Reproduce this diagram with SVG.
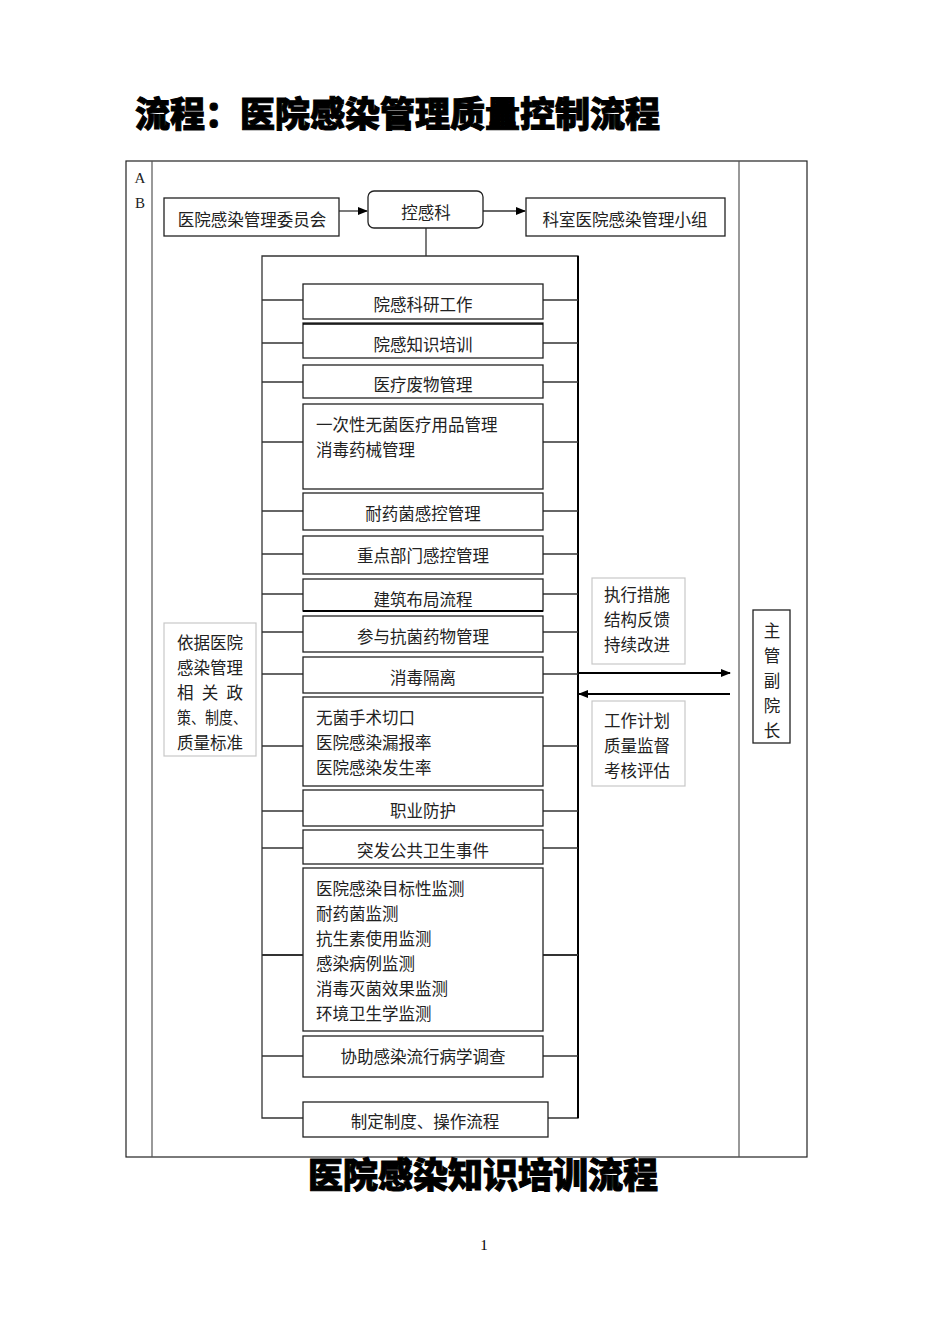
<svg xmlns="http://www.w3.org/2000/svg" width="950" height="1344" viewBox="0 0 950 1344">
<defs>
<marker id="ah" markerWidth="10" markerHeight="8" refX="9" refY="4" orient="auto" markerUnits="userSpaceOnUse">
<path d="M0,0 L10,4 L0,8 z" fill="#000"/>
</marker>
<style>
.t{font-family:"Liberation Serif","Noto Sans CJK SC",serif;font-size:16.5px;fill:#222}
.c{text-anchor:middle}
.box{fill:#fff;stroke:#222;stroke-width:1.3}
.gbox{fill:#fff;stroke:#c8c8c8;stroke-width:1.2}
.ln{stroke:#333;stroke-width:1.3;fill:none}
.title{font-family:"Noto Sans CJK SC",sans-serif;font-weight:900;font-size:35px;fill:#000;stroke:#000;stroke-width:1}
</style>
</defs>
<rect width="950" height="1344" fill="#fff"/>
<text class="title" x="135" y="127">流程：医院感染管理质量控制流程</text>

<g id="frame">
<rect x="126" y="161" width="681" height="996" fill="none" stroke="#222" stroke-width="1.2"/>
<line x1="152" y1="161" x2="152" y2="1157" stroke="#555" stroke-width="1.2"/>
<line x1="739" y1="161" x2="739" y2="1157" stroke="#555" stroke-width="1.2"/>
<text class="t" x="140" y="183" style="font-size:15px" text-anchor="middle">A</text>
<text class="t" x="140" y="208" style="font-size:15px" text-anchor="middle">B</text>
</g>

<g id="connectors">
<line class="ln" x1="339" y1="211" x2="367" y2="211" marker-end="url(#ah)" stroke-width="2"/>
<line class="ln" x1="483" y1="211" x2="525" y2="211" marker-end="url(#ah)" stroke-width="2"/>
<line class="ln" x1="426" y1="228" x2="426" y2="256"/>
<path class="ln" d="M303,1118 H262 V256 H578 V1118 H548"/>
<line x1="578" y1="256" x2="578" y2="1118" stroke="#000" stroke-width="2"/>
<g class="ln">
<line x1="262" y1="300" x2="303" y2="300"/><line x1="543" y1="300" x2="578" y2="300"/>
<line x1="262" y1="343" x2="303" y2="343"/><line x1="543" y1="343" x2="578" y2="343"/>
<line x1="262" y1="382" x2="303" y2="382"/><line x1="543" y1="382" x2="578" y2="382"/>
<line x1="262" y1="442" x2="303" y2="442"/><line x1="543" y1="442" x2="578" y2="442"/>
<line x1="262" y1="511" x2="303" y2="511"/><line x1="543" y1="511" x2="578" y2="511"/>
<line x1="262" y1="554" x2="303" y2="554"/><line x1="543" y1="554" x2="578" y2="554"/>
<line x1="262" y1="594" x2="303" y2="594"/><line x1="543" y1="594" x2="578" y2="594"/>
<line x1="262" y1="632" x2="303" y2="632"/><line x1="543" y1="632" x2="578" y2="632"/>
<line x1="262" y1="674" x2="303" y2="674"/><line x1="543" y1="674" x2="578" y2="674"/>
<line x1="262" y1="746" x2="303" y2="746"/><line x1="543" y1="746" x2="578" y2="746"/>
<line x1="262" y1="811" x2="303" y2="811"/><line x1="543" y1="811" x2="578" y2="811"/>
<line x1="262" y1="848" x2="303" y2="848"/><line x1="543" y1="848" x2="578" y2="848"/>
<line x1="262" y1="955" x2="303" y2="955" stroke-width="2"/><line x1="543" y1="955" x2="578" y2="955" stroke-width="2"/>
<line x1="262" y1="1056" x2="303" y2="1056"/><line x1="543" y1="1056" x2="578" y2="1056"/>
</g>
<line x1="578" y1="673" x2="730" y2="673" stroke="#000" stroke-width="2" marker-end="url(#ah)"/>
<line x1="730" y1="694" x2="579" y2="694" stroke="#000" stroke-width="2" marker-end="url(#ah)"/>
</g>

<g id="n-committee"><rect class="box" x="164" y="198" width="175" height="38"/><text class="t c" x="252" y="226">医院感染管理委员会</text></g>
<g id="n-kgk"><rect class="box" x="368" y="191" width="115" height="37" rx="6" stroke-width="1.6"/><text class="t c" x="426" y="219">控感科</text></g>
<g id="n-group"><rect class="box" x="526" y="198" width="199" height="38"/><text class="t c" x="625" y="226">科室医院感染管理小组</text></g>

<g id="n1"><rect class="box" x="303" y="284" width="240" height="35"/><text class="t c" x="423" y="311">院感科研工作</text></g>
<g id="n2"><rect class="box" x="303" y="323" width="240" height="35"/><line x1="303" y1="324" x2="543" y2="324" stroke="#000" stroke-width="1.5"/><text class="t c" x="423" y="351">院感知识培训</text></g>
<g id="n3"><rect class="box" x="303" y="365" width="240" height="33"/><text class="t c" x="423" y="391">医疗废物管理</text></g>
<g id="n4"><rect class="box" x="303" y="404" width="240" height="85"/><text class="t" x="316" y="431">一次性无菌医疗用品管理</text><text class="t" x="316" y="456">消毒药械管理</text></g>
<g id="n5"><rect class="box" x="303" y="493" width="240" height="37"/><text class="t c" x="423" y="520">耐药菌感控管理</text></g>
<g id="n6"><rect class="box" x="303" y="536" width="240" height="38"/><text class="t c" x="423" y="562">重点部门感控管理</text></g>
<g id="n7"><rect class="box" x="303" y="579" width="240" height="32"/><line x1="303" y1="611" x2="543" y2="611" stroke="#000" stroke-width="1.8"/><text class="t c" x="423" y="606">建筑布局流程</text></g>
<g id="n8"><rect class="box" x="303" y="616" width="240" height="36"/><text class="t c" x="423" y="643">参与抗菌药物管理</text></g>
<g id="n9"><rect class="box" x="303" y="657" width="240" height="36"/><text class="t c" x="423" y="684">消毒隔离</text></g>
<g id="n10"><rect class="box" x="303" y="697" width="240" height="89"/><text class="t" x="316" y="724">无菌手术切口</text><text class="t" x="316" y="749">医院感染漏报率</text><text class="t" x="316" y="774">医院感染发生率</text></g>
<g id="n11"><rect class="box" x="303" y="790" width="240" height="36"/><text class="t c" x="423" y="817">职业防护</text></g>
<g id="n12"><rect class="box" x="303" y="830" width="240" height="34"/><text class="t c" x="423" y="857">突发公共卫生事件</text></g>
<g id="n13"><rect class="box" x="303" y="868" width="240" height="163"/>
<text class="t" x="316" y="895">医院感染目标性监测</text><text class="t" x="316" y="920">耐药菌监测</text><text class="t" x="316" y="945">抗生素使用监测</text><text class="t" x="316" y="970">感染病例监测</text><text class="t" x="316" y="995">消毒灭菌效果监测</text><text class="t" x="316" y="1020">环境卫生学监测</text></g>
<g id="n14"><rect class="box" x="303" y="1036" width="240" height="41"/><text class="t c" x="423" y="1063">协助感染流行病学调查</text></g>
<g id="n15"><rect class="box" x="303" y="1102" width="245" height="35"/><text class="t c" x="425" y="1128">制定制度、操作流程</text></g>

<g id="n-basis"><rect class="gbox" x="164" y="623" width="92" height="133"/>
<text class="t" x="177" y="649">依据医院</text><text class="t" x="177" y="674">感染管理</text><text class="t" x="177" y="699" textLength="66">相 关 政</text><text class="t" x="177" y="724" textLength="70" lengthAdjust="spacingAndGlyphs">策、制度、</text><text class="t" x="177" y="749">质量标准</text></g>
<g id="n-exec"><rect class="gbox" x="592" y="578" width="93" height="86"/>
<text class="t" x="604" y="601">执行措施</text><text class="t" x="604" y="626">结构反馈</text><text class="t" x="604" y="651">持续改进</text></g>
<g id="n-plan"><rect class="gbox" x="592" y="701" width="93" height="85"/>
<text class="t" x="604" y="727">工作计划</text><text class="t" x="604" y="752">质量监督</text><text class="t" x="604" y="777">考核评估</text></g>
<g id="n-vp"><rect class="box" x="753" y="610" width="37" height="133" stroke="#555"/>
<text class="t c" x="772" y="637">主</text><text class="t c" x="772" y="662">管</text><text class="t c" x="772" y="687">副</text><text class="t c" x="772" y="712">院</text><text class="t c" x="772" y="737">长</text></g>

<text class="title" x="308" y="1188">医院感染知识培训流程</text>
<text x="484" y="1250" font-family="Liberation Serif,serif" font-size="15" text-anchor="middle" fill="#000">1</text>
</svg>
